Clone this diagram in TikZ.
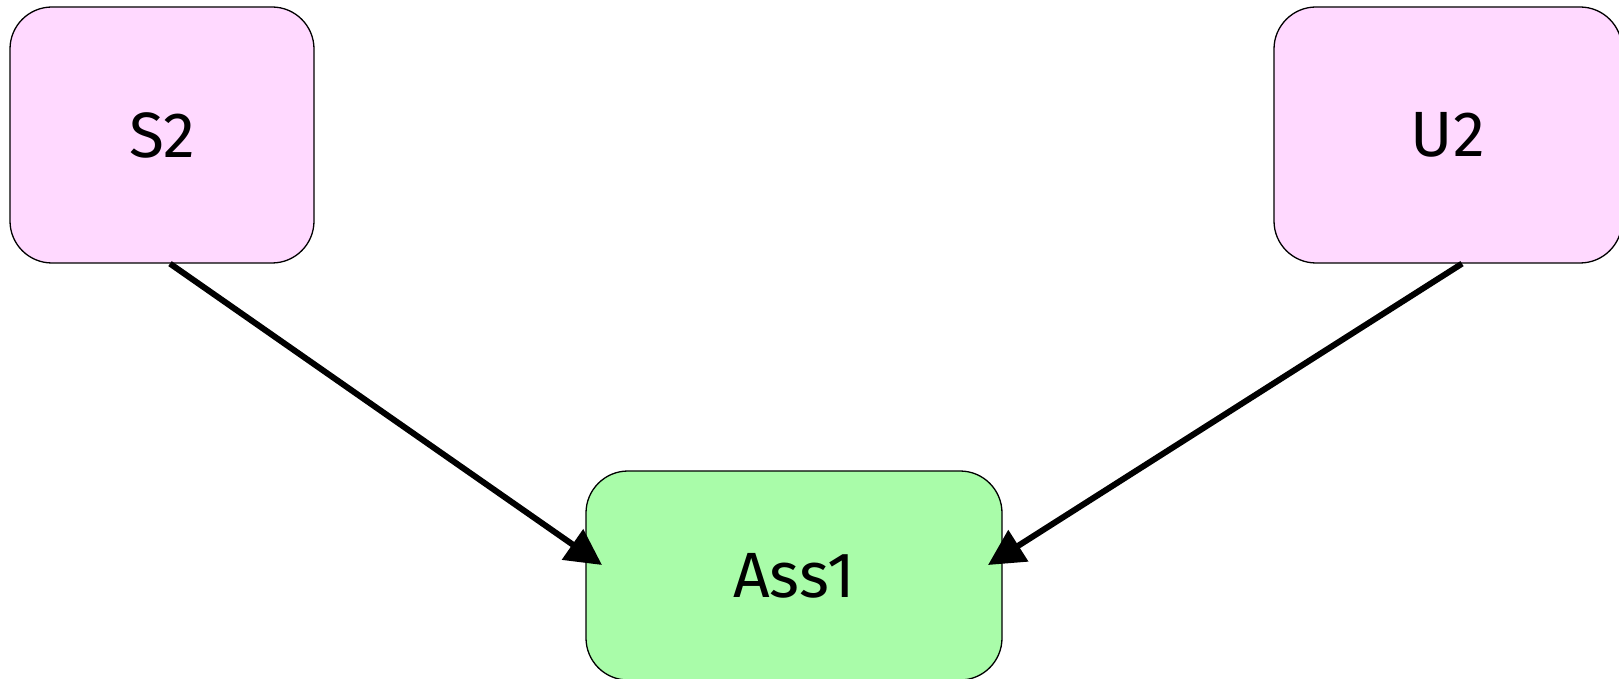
\documentclass[tikz,border=0pt]{standalone}
\usepackage{fontspec}
\setmainfont{Fira Sans}
\usetikzlibrary{arrows.meta}
\definecolor{pinkfill}{RGB}{255,217,255}
\definecolor{greenfill}{RGB}{169,252,169}
\begin{document}
\begin{tikzpicture}[x=1pt,y=1pt,
  box/.style={draw=black, line width=1.3pt, rounded corners=42pt, inner sep=0pt,
    font=\fontsize{64}{76}\selectfont},
  conn/.style={line width=6pt, -{Triangle[length=36pt,width=36pt]}}]
\useasboundingbox (0,0) rectangle (1619,678);
\node[box, fill=pinkfill, minimum width=304pt, minimum height=256pt] (S2) at (162,543) {S2};
\node[box, fill=pinkfill, minimum width=348pt, minimum height=256pt] (U2) at (1448,543) {U2};
\node[box, fill=greenfill, minimum width=416pt, minimum height=209pt] (A1) at (794,102.5) {Ass1};
\coordinate (t1) at (602,113);
\coordinate (t2) at (988,113);
\draw[conn] ([xshift=8pt]S2.south) -- (t1);
\draw[conn] ([xshift=14pt]U2.south) -- (t2);
\end{tikzpicture}
\end{document}
